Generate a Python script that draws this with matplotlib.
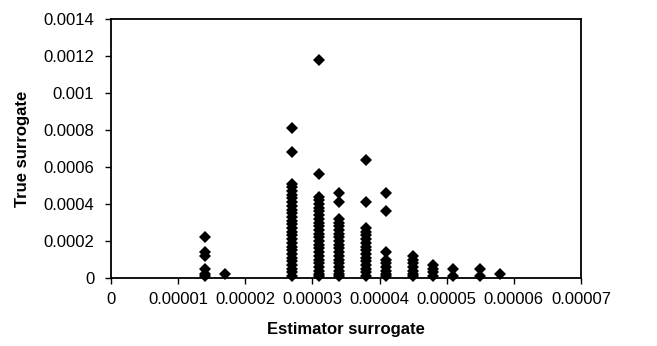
import matplotlib
matplotlib.use("Agg")
import matplotlib.pyplot as plt
from matplotlib.ticker import MultipleLocator, FuncFormatter

plt.rcParams['font.family'] = ['Liberation Sans', 'DejaVu Sans']

# Estimator surrogate column positions and the True surrogate values in each
col_x = [0.000014, 0.000017, 0.000027, 0.000031, 0.000034, 0.000038,
         0.000041, 0.000045, 0.000048, 0.000051, 0.000055, 0.000058]

y_014 = [0.00022, 0.00014, 0.00012, 0.00005, 0.00002, 0.00001]
y_017 = [0.00002]
y_027 = [0.00081, 0.00068, 0.00051, 0.00049, 0.00047, 0.00045, 0.00043, 0.00041,
         0.00039, 0.00037, 0.00035, 0.00033, 0.00031, 0.00029, 0.00027, 0.00025,
         0.00023, 0.00021, 0.00019, 0.00017, 0.00015, 0.00013, 0.00011, 0.00009,
         0.00007, 0.00005, 0.00003, 0.00001]
y_031 = [0.00118, 0.00056, 0.00044, 0.00042, 0.00040, 0.00038, 0.00036, 0.00034,
         0.00032, 0.00030, 0.00028, 0.00026, 0.00024, 0.00022, 0.00020, 0.00018,
         0.00016, 0.00014, 0.00012, 0.00010, 0.00008, 0.00006, 0.00004, 0.00002,
         0.00001]
y_034 = [0.00046, 0.00041, 0.00032, 0.00030, 0.00028, 0.00026, 0.00024, 0.00022,
         0.00020, 0.00018, 0.00016, 0.00014, 0.00012, 0.00010, 0.00008, 0.00006,
         0.00004, 0.00002, 0.00001]
y_038 = [0.00064, 0.00041, 0.00027, 0.00025, 0.00023, 0.00021, 0.00019, 0.00017,
         0.00015, 0.00013, 0.00011, 0.00009, 0.00007, 0.00005, 0.00003, 0.00001]
y_041 = [0.00046, 0.00036, 0.00014, 0.00010, 0.00008, 0.00006, 0.00004, 0.00002,
         0.00001]
y_045 = [0.00012, 0.00010, 0.00008, 0.00006, 0.00004, 0.00002, 0.00001]
y_048 = [0.00007, 0.00005, 0.00003, 0.00001]
y_051 = [0.00005, 0.00001]
y_055 = [0.00005, 0.00001]
y_058 = [0.00002]

col_y = [y_014, y_017, y_027, y_031, y_034, y_038,
         y_041, y_045, y_048, y_051, y_055, y_058]

fig = plt.figure(figsize=(6.57, 3.46), dpi=100)
ax = fig.add_axes([111/657, 1 - 278/346, (581-111)/657, (278-19)/346])

for xv, ys in zip(col_x, col_y):
    ax.plot([xv]*len(ys), ys, linestyle='none', marker='D', color='black',
            markersize=6.5, markeredgewidth=0, clip_on=False)

ax.set_xlim(0, 0.00007)
ax.set_ylim(0, 0.0014)
ax.xaxis.set_major_locator(MultipleLocator(0.00001))
ax.yaxis.set_major_locator(MultipleLocator(0.0002))

def fmt(v, pos):
    if abs(v) < 1e-12:
        return '0'
    return ('%.5f' % v).rstrip('0')

def fmty(v, pos):
    if abs(v) < 1e-12:
        return '0'
    return ('%.4f' % v).rstrip('0')

ax.xaxis.set_major_formatter(FuncFormatter(fmt))
ax.yaxis.set_major_formatter(FuncFormatter(fmty))
ax.tick_params(axis='both', direction='out', length=4, width=1, labelsize=12,
               colors='black')
ax.tick_params(axis='x', pad=6)
ax.tick_params(axis='y', pad=8)
for s in ax.spines.values():
    s.set_linewidth(1.3)
    s.set_color('black')

ax.set_xlabel('Estimator surrogate', fontweight='bold', fontsize=12, labelpad=11)
ax.set_ylabel('True surrogate', fontweight='bold', fontsize=12, labelpad=10)

fig.savefig('out.png', dpi=100)
